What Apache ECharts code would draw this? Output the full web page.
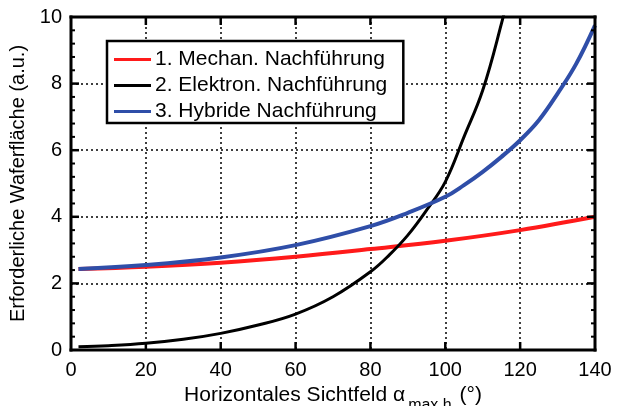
<!DOCTYPE html>
<html><head><meta charset="utf-8">
<script src="https://cdn.jsdelivr.net/npm/echarts@6/dist/echarts.min.js"></script>
<style>html,body{margin:0;padding:0;background:#fff}#c{width:621px;height:406px}</style>
</head><body><div id="c"></div>
<script>
const seriesNames = ['1. Mechan. Nachführung', '2. Elektron. Nachführung', '3. Hybride Nachführung'];
const mechX = [2, 20, 40, 60, 80, 100, 120, 140];
const mechY = [2.43, 2.50, 2.62, 2.80, 3.03, 3.28, 3.60, 4.00];
const elekX = [2, 10, 20, 30, 40, 50, 60, 70, 80, 85, 90, 95, 100, 105, 110, 115, 118];
const elekY = [0.10, 0.13, 0.20, 0.32, 0.50, 0.75, 1.08, 1.60, 2.35, 2.85, 3.45, 4.20, 5.05, 6.40, 7.80, 9.80, 11.2];
const hybX = [2, 20, 40, 60, 80, 90, 100, 105, 110, 115, 120, 125, 130, 135, 140];
const hybY = [2.43, 2.55, 2.78, 3.15, 3.72, 4.12, 4.60, 4.95, 5.35, 5.80, 6.30, 6.90, 7.70, 8.60, 9.75];
const xTicks = [0, 20, 40, 60, 80, 100, 120, 140];
const yTicks = [0, 2, 4, 6, 8, 10];
const yMinorTicks = [0.4, 0.8, 1.2, 1.6, 2.4, 2.8, 3.2, 3.6, 4.4, 4.8, 5.2, 5.6, 6.4, 6.8, 7.2, 7.6, 8.4, 8.8, 9.2, 9.6];
const colors = ['#ff1a1a', '#000000', '#2f4ea8'];

const pairs = (xs, ys) => xs.map((x, i) => [x, ys[i]]);
const font = 'Liberation Sans, Arial, Helvetica, sans-serif';
const chart = echarts.init(document.getElementById('c'));
const gridLine = () => ({show: true, lineStyle: {color: '#000', width: 1.5, type: [2, 3]}});
chart.setOption({
  animation: false,
  textStyle: {fontFamily: font},
  grid: {left: 71, right: 26, top: 17, bottom: 56, outerBoundsMode: 'none'},
  legend: {
    orient: 'vertical', left: 107, top: 41, width: 298, z: 20,
    data: seriesNames,
    backgroundColor: '#fff', borderColor: '#000', borderWidth: 2.5,
    padding: [8, 16, 1, 7], itemGap: 5,
    itemWidth: 37, itemHeight: 3, icon: 'rect',
    textStyle: {fontFamily: font, fontSize: 21, lineHeight: 20, color: '#000', padding: [0, 0, 0, -1]}
  },
  xAxis: {
    type: 'value', min: 0, max: 140, interval: 20,
    axisLine: {show: false, onZero: false}, axisTick: {show: false}, splitLine: gridLine(),
    axisLabel: {fontSize: 20, color: '#000', margin: 10, fontFamily: font,
      formatter: v => xTicks.includes(v) ? String(v) : ''},
    name: '{a|Horizontales Sichtfeld α}{s|max.h}{a| (°)}',
    nameLocation: 'middle', nameGap: 27,
    nameTextStyle: {rich: {
      a: {fontSize: 21, color: '#000', fontFamily: font, lineHeight: 22, verticalAlign: 'top'},
      s: {fontSize: 16, color: '#000', fontFamily: font, lineHeight: 22, padding: [13, 2, 0, 3], verticalAlign: 'top'}
    }}
  },
  yAxis: {
    type: 'value', min: 0, max: 10, interval: 2,
    axisLine: {show: false, onZero: false}, axisTick: {show: false}, splitLine: gridLine(),
    axisLabel: {fontSize: 20, color: '#000', margin: 9, fontFamily: font,
      formatter: v => yTicks.includes(v) ? String(v) : ''},
    name: 'Erforderliche Waferfläche (a.u.)',
    nameLocation: 'middle', nameGap: 25,
    nameTextStyle: {fontSize: 20, color: '#000', fontFamily: font}
  },
  series: [
    {name: seriesNames[0], type: 'line', data: pairs(mechX, mechY), smooth: 0.4, showSymbol: false, clip: true,
      lineStyle: {color: colors[0], width: 4}, itemStyle: {color: colors[0]}},
    {name: seriesNames[1], type: 'line', data: pairs(elekX, elekY), smooth: 0.4, showSymbol: false, clip: true,
      lineStyle: {color: colors[1], width: 3}, itemStyle: {color: colors[1]}},
    {name: seriesNames[2], type: 'line', data: pairs(hybX, hybY), smooth: 0.4, showSymbol: false, clip: true,
      lineStyle: {color: colors[2], width: 4}, itemStyle: {color: colors[2]}}
  ]
});

// Frame and inward ticks as filled rectangles positioned through the chart's own scales
const px = (x, y) => chart.convertToPixel({gridIndex: 0}, [x, y]);
const [L, B] = px(0, 0);
const [R, T] = px(140, 10);
const els = [];
const bar = (x, y, w, h) => els.push({type: 'rect', z: 15, silent: true,
  shape: {x: x, y: y, width: w, height: h}, style: {fill: '#000'}});
const lw = 3;
bar(L - lw / 2, T - lw / 2, R - L + lw, lw);
bar(L - lw / 2, B - lw / 2, R - L + lw, lw);
bar(L - lw / 2, T - lw / 2, lw, B - T + lw);
bar(R - lw / 2, T - lw / 2, lw, B - T + lw);
const tw = 2.5, tl = 8, ml = 4, mw = 2;
xTicks.slice(1, -1).forEach(v => {
  const x = px(v, 0)[0];
  bar(x - tw / 2, B - tl, tw, tl);
  bar(x - tw / 2, T, tw, tl);
});
yTicks.slice(1, -1).forEach(v => {
  const y = px(0, v)[1];
  bar(L, y - tw / 2, tl, tw);
  bar(R - tl, y - tw / 2, tl, tw);
});
yMinorTicks.forEach(v => {
  const y = px(0, v)[1];
  bar(L, y - mw / 2, ml, mw);
  bar(R - ml, y - mw / 2, ml, mw);
});
chart.setOption({graphic: {elements: els}});
</script></body></html>
